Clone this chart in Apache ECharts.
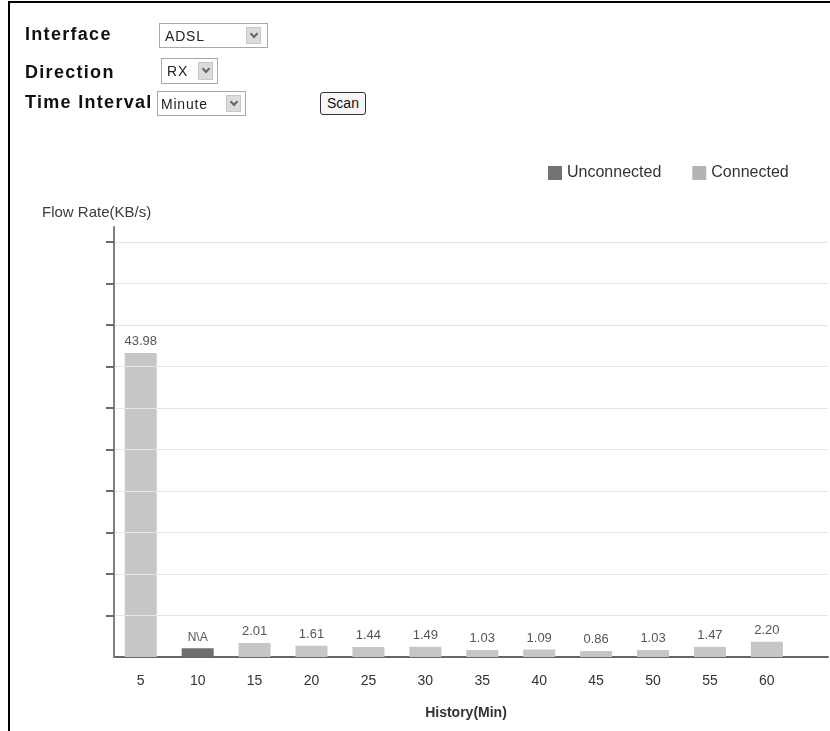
<!DOCTYPE html>
<html>
<head>
<meta charset="utf-8">
<script src="https://cdn.jsdelivr.net/npm/echarts@6/dist/echarts.min.js"></script>
<style>
  html, body { margin: 0; padding: 0; background: #fff; }
  body { width: 830px; height: 731px; position: relative; overflow: hidden; font-family: "Liberation Sans", Arial, sans-serif; }
  #frame { position: absolute; left: 8px; top: 1px; width: 830px; height: 740px; border-left: 2px solid #000; border-top: 2px solid #000; box-sizing: border-box; }
  #chart { position: absolute; left: 0; top: 0; width: 830px; height: 731px; }
  .lbl { position: absolute; left: 25px; font-weight: bold; font-size: 18px; letter-spacing: 1.3px; color: #111; line-height: 20px; z-index: 5; }
  .sel { position: absolute; border: 1px solid #a9a9a9; background: #fff; box-sizing: border-box; font-size: 14px; letter-spacing: 0.8px; color: #222; z-index: 5; }
  .sel span.t { position: absolute; left: 5px; top: 50%; transform: translateY(-50%); }
  .sel span.a { position: absolute; top: 3px; bottom: 3px; width: 15px; right: 6px; background: #dcdcdc; border: 1px solid #c8c8c8; box-sizing: border-box; }
  .sel span.a::after { content: ""; position: absolute; left: 4px; top: 3px; width: 4px; height: 4px; border-right: 2px solid #666; border-bottom: 2px solid #666; transform: rotate(45deg); }
  #scan { position: absolute; left: 320px; top: 92px; width: 46px; height: 23px; border: 1px solid #333; border-radius: 3px; box-sizing: border-box; font-size: 14px; text-align: center; line-height: 21px; background: #f7f7f7; color: #111; z-index: 5; }
</style>
</head>
<body>
<div id="frame"></div>
<div id="chart"></div>
<div class="lbl" style="top:24px">Interface</div>
<div class="sel" style="left:159px;top:23px;width:109px;height:25px"><span class="t">ADSL</span><span class="a"></span></div>
<div class="lbl" style="top:62px">Direction</div>
<div class="sel" style="left:161px;top:58px;width:57px;height:26px"><span class="t">RX</span><span class="a" style="right:4px"></span></div>
<div class="lbl" style="top:92px">Time Interval</div>
<div class="sel" style="left:157px;top:91px;width:89px;height:25px"><span class="t" style="left:3px">Minute</span><span class="a" style="right:4px"></span></div>
<div id="scan">Scan</div>
<script>
// ---- data ----
const categories = [5, 10, 15, 20, 25, 30, 35, 40, 45, 50, 55, 60];
const connectedValues = [43.98, null, 2.01, 1.61, 1.44, 1.49, 1.03, 1.09, 0.86, 1.03, 1.47, 2.20];
const unconnectedValues = [null, 1.25, null, null, null, null, null, null, null, null, null, null];
const unconnectedLabel = 'N\\A';
const yTickValues = [6, 12, 18, 24, 30, 36, 42, 48, 54, 60];
const xTickLabels = categories;
const seriesNames = ['Unconnected', 'Connected'];

function pairs(vals) {
  const out = [];
  categories.forEach(function (c, i) { if (vals[i] !== null) out.push([c, vals[i]]); });
  return out;
}

const chart = echarts.init(document.getElementById('chart'), null, { renderer: 'canvas' });
chart.setOption({
  animation: false,
  backgroundColor: 'transparent',
  textStyle: { fontFamily: '"Liberation Sans", Arial, sans-serif' },
  title: {
    text: 'Flow Rate(KB/s)', left: 37, top: 200,
    textStyle: { fontSize: 15, fontWeight: 'normal', color: '#3c3c3c' }
  },
  legend: {
    left: 543, top: 160, itemWidth: 14, itemHeight: 14, itemGap: 31,
    icon: 'rect',
    textStyle: { fontSize: 16, color: '#333' },
    data: [
      { name: seriesNames[0], itemStyle: { color: '#737373' } },
      { name: seriesNames[1], itemStyle: { color: '#b4b4b4' } }
    ]
  },
  grid: { left: 114, right: 2, top: 227, bottom: 74, containLabel: false },
  xAxis: {
    type: 'value', min: 2.65, max: 65.37,
    axisLine: { show: true, onZero: true, lineStyle: { color: '#666', width: 2 } },
    axisTick: { show: false },
    splitLine: { show: false },
    axisLabel: { customValues: xTickLabels, fontSize: 14, color: '#333', margin: 17 },
    name: 'History(Min)', nameLocation: 'middle', nameGap: 49,
    nameTextStyle: { fontWeight: 'bold', fontSize: 14, color: '#333', padding: [0, 10, 0, 0] }
  },
  yAxis: {
    type: 'value', min: 0, max: 62.2, z: 3,
    axisLine: { show: true, lineStyle: { color: '#808080', width: 2 } },
    axisTick: { show: true, customValues: yTickValues, length: 8, lineStyle: { color: '#6a6a6a', width: 2 } },
    axisLabel: { show: false },
    splitLine: { show: true, lineStyle: { color: '#e4e4e4', width: 1 } }
  },
  series: [
    {
      name: seriesNames[0], type: 'bar', stack: 'flow', barWidth: 32,
      data: pairs(unconnectedValues),
      itemStyle: { color: '#6e6e6e' },
      label: { show: true, position: 'top', distance: 5, formatter: function () { return unconnectedLabel; }, fontSize: 12, color: '#555' }
    },
    {
      name: seriesNames[1], type: 'bar', stack: 'flow', barWidth: 32,
      data: pairs(connectedValues),
      itemStyle: { color: '#c6c6c6' },
      label: { show: true, position: 'top', distance: 5, formatter: function (p) { return p.value[1].toFixed(2); }, fontSize: 13, color: '#555' }
    }
  ]
});
</script>
</body>
</html>
